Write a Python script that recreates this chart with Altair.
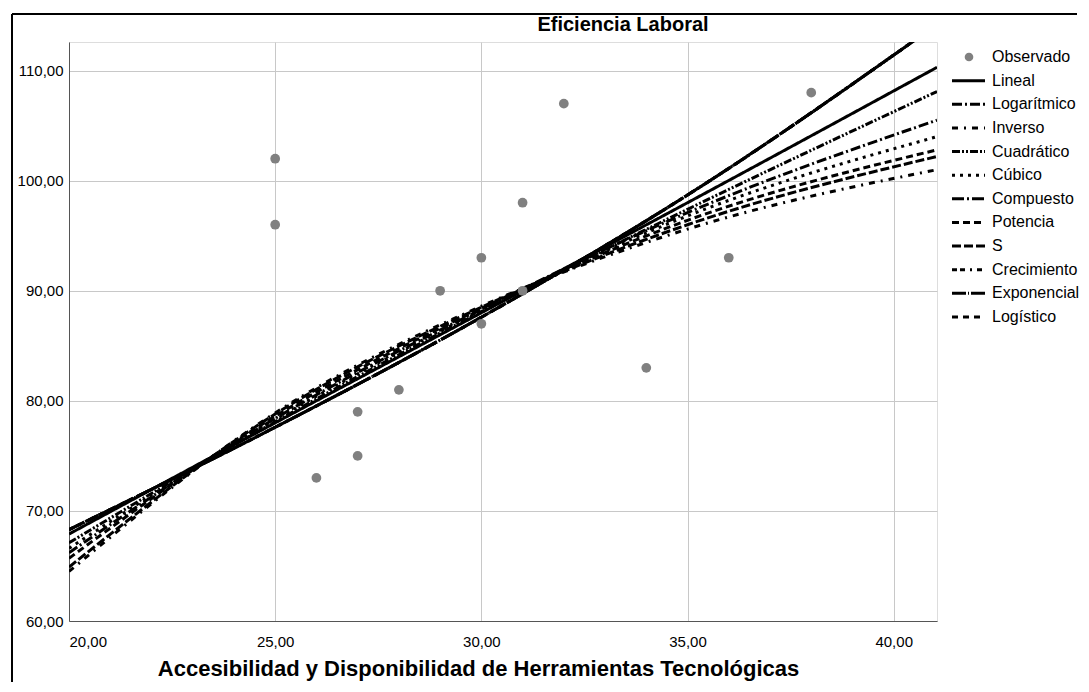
import altair as alt
import pandas as pd

# ---- data ----
obs_x = [25, 25, 26, 27, 27, 28, 29, 30, 30, 31, 31, 32, 34, 36, 38]
obs_y = [102, 96, 73, 79, 75, 81, 90, 93, 87, 98, 90, 107, 83, 93, 108]

curve_x = [20, 25, 30, 35, 41.05]
lineal = [67.9, 78.0, 88.0, 98.0, 110.3]
logaritmico = [66.2, 78.4, 88.3, 97.1, 105.5]
inverso = [64.5, 78.9, 88.6, 95.6, 101.0]
cuadratico = [67.1, 78.1, 88.1, 97.4, 108.1]
cubico = [66.6, 78.3, 88.2, 96.8, 104.0]
compuesto = [68.3, 77.6, 87.6, 98.7, 114.2]
potencia = [65.7, 78.6, 88.4, 96.4, 102.8]
s_curva = [64.9, 78.8, 88.5, 96.0, 102.2]
crecimiento = [68.3, 77.6, 87.6, 98.7, 114.2]
exponencial = [68.3, 77.6, 87.6, 98.7, 114.2]
logistico = [68.3, 77.6, 87.6, 98.7, 114.2]

models = ["Lineal", "Logarítmico", "Inverso", "Cuadrático", "Cúbico", "Compuesto",
          "Potencia", "S", "Crecimiento", "Exponencial", "Logístico"]
series = [lineal, logaritmico, inverso, cuadratico, cubico, compuesto,
          potencia, s_curva, crecimiento, exponencial, logistico]
dashes = [[1, 0], [10, 3, 2, 3], [6, 6, 2, 6], [8, 2, 2, 2, 2, 2], [3, 5], [12, 3, 2, 3],
          [7, 4], [9, 3], [5, 3, 5, 5, 2, 5], [14, 2, 1, 2], [6, 5]]

x_ticks = [20, 25, 30, 35, 40]
y_ticks = [60, 70, 80, 90, 100, 110]
title_text = ["Eficiencia Laboral"]
x_title = "Accesibilidad y Disponibilidad de Herramientas Tecnológicas"
legend_names = ["Observado"] + models

FONT = "Liberation Sans"

obs_df = pd.DataFrame({"x": obs_x, "y": obs_y})
rows = []
for m, vals in zip(models, series):
    for xv, yv in zip(curve_x, vals):
        rows.append({"model": m, "x": xv, "y": yv})
curve_df = pd.DataFrame(rows)

lab_expr = "replace(format(datum.value, '.2f'), '.', ',')"
xscale = alt.Scale(domain=[20, 41.05], nice=False, zero=False)
yscale = alt.Scale(domain=[60, 112.6], nice=False, zero=False)
dash_scale = alt.Scale(domain=models, range=dashes)

x_enc = alt.X("x:Q", scale=xscale, axis=alt.Axis(
    values=x_ticks, labelExpr=lab_expr, grid=True, gridColor="#c8c8c8", ticks=False,
    domainColor="#555555", labelFontSize=15, labelColor="#000000", labelFont=FONT,
    labelPadding=13, title=x_title, titleFont=FONT, titleFontSize=22, titleFontWeight="bold",
    titleColor="#000000", titleX=409, titleY=47, titleAlign="center",
    titleBaseline="middle"))
y_enc = alt.Y("y:Q", scale=yscale, axis=alt.Axis(
    values=y_ticks, labelExpr=lab_expr, grid=True, gridColor="#c8c8c8", ticks=False,
    domainColor="#555555", labelFontSize=15, labelColor="#000000", labelFont=FONT,
    labelPadding=6, title=None))

points = alt.Chart(obs_df).mark_circle(size=95, color="#808080", opacity=1).encode(x=x_enc, y=y_enc)
curves = alt.Chart(curve_df).mark_line(clip=True, strokeWidth=3, color="black",
                                      interpolate="monotone").encode(
    x=alt.X("x:Q", scale=xscale), y=alt.Y("y:Q", scale=yscale),
    strokeDash=alt.StrokeDash("model:N", scale=dash_scale, legend=None),
    detail="model:N")
main = alt.layer(curves, points)

leg_df = pd.DataFrame({"name": legend_names})
leg_y = alt.Y("name:N", scale=alt.Scale(type="point", domain=legend_names, range=[15, 275],
                                        padding=0), axis=None)
leg_lines_df = pd.DataFrame({"name": models})
leg_rules = alt.Chart(leg_lines_df).mark_rule(strokeWidth=3, color="black").encode(
    x=alt.value(883), x2=alt.value(916), y=leg_y,
    strokeDash=alt.StrokeDash("name:N", scale=dash_scale, legend=None))
leg_point = alt.Chart(pd.DataFrame({"name": ["Observado"]})).mark_circle(
    size=75, color="#808080", opacity=1).encode(x=alt.value(900), y=leg_y)
leg_text = alt.Chart(leg_df).mark_text(align="left", baseline="middle", fontSize=16,
                                       font=FONT, color="#000000").encode(
    x=alt.value(923), y=leg_y, text="name:N")
title = alt.Chart(pd.DataFrame({"t": title_text})).mark_text(
    align="center", baseline="middle", fontSize=20, fontWeight="bold", font=FONT,
    color="#000000").encode(x=alt.value(554), y=alt.value(-17), text="t:N")
frame_top = alt.Chart(pd.DataFrame({"a": [0]})).mark_rule(strokeWidth=2, color="black").encode(
    x=alt.value(-57), x2=alt.value(1008), y=alt.value(-28))
frame_left = alt.Chart(pd.DataFrame({"a": [0]})).mark_rule(strokeWidth=2, color="black").encode(
    x=alt.value(-57), y=alt.value(-28), y2=alt.value(640))
overlay = alt.layer(leg_rules, leg_point, leg_text, title, frame_top, frame_left)

chart = alt.layer(main, overlay).resolve_scale(
    x="independent", y="independent"
).properties(
    width=868, height=579,
    padding={"left": 3, "top": 5, "right": 0, "bottom": 0}
).configure_view(stroke=None).configure(background="white")

chart.save("out.html", embed_options={"renderer": "svg", "actions": False})
